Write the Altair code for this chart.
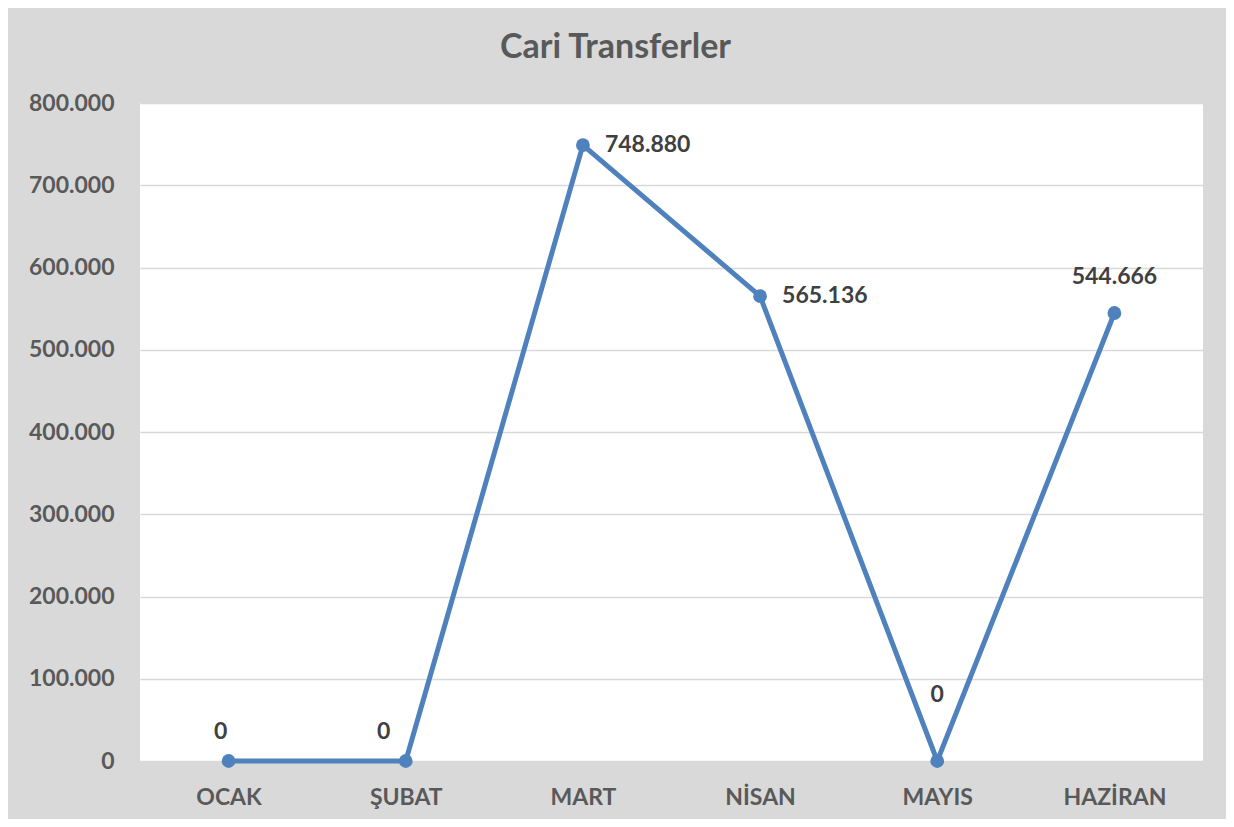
import altair as alt
import pandas as pd

months = ["OCAK", "ŞUBAT", "MART", "NİSAN", "MAYIS", "HAZİRAN"]
values = [0, 0, 748880, 565136, 0, 544666]

df = pd.DataFrame({"ay": months, "deger": values})

FONT = "Lato"
LINE = "#4f81bd"

base = alt.Chart(df).transform_calculate(
    lbl="replace(format(datum.deger, ','), ',', '.')"
)

x_enc = alt.X("ay:N", sort=months, title=None,
              scale=alt.Scale(paddingInner=0, paddingOuter=0.5),
              axis=alt.Axis(labelAngle=0, labelFont=FONT, labelFontSize=23,
                            labelFontWeight="bold", labelColor="#595959",
                            labelPadding=25, ticks=False, domain=False, grid=False))
y_enc = alt.Y("deger:Q", title=None,
              scale=alt.Scale(domain=[0, 800000], nice=False),
              axis=alt.Axis(values=list(range(0, 800001, 100000)),
                            labelExpr="replace(format(datum.value, ','), ',', '.')",
                            labelFont=FONT, labelFontSize=23, labelFontWeight="bold",
                            labelColor="#595959", labelPadding=26, ticks=False,
                            domain=False, grid=True, gridColor="#d9d9d9",
                            gridWidth=1.5))

line = base.mark_line(color=LINE, strokeWidth=5).encode(x=x_enc, y=y_enc)
pts = base.mark_point(color=LINE, filled=True, opacity=1, size=190).encode(
    x=alt.X("ay:N", sort=months), y="deger:Q")

def lbl_layer(names, **kw):
    return base.transform_filter(
        alt.FieldOneOfPredicate(field="ay", oneOf=names)
    ).mark_text(font=FONT, fontSize=23, fontWeight="bold", color="#404040",
                baseline="middle", **kw).encode(
        x=alt.X("ay:N", sort=months), y="deger:Q", text="lbl:N")

labels = [
    lbl_layer(["OCAK"], dx=-8, dy=-29),
    lbl_layer(["ŞUBAT"], dx=-22, dy=-29),
    lbl_layer(["MAYIS"], dx=0, dy=-66),
    lbl_layer(["MART", "NİSAN"], align="left", dx=22),
    lbl_layer(["HAZİRAN"], dy=-36),
]

chart = alt.layer(line, pts, *labels).properties(
    width=1063, height=658,
    background="#d9d9d9",
    padding={"left": 132, "top": 95, "right": 23, "bottom": 58},
    autosize=alt.AutoSizeParams(type="none"),
    title=alt.TitleParams("Cari Transferler", font=FONT, fontSize=34,
                          fontWeight="bold", color="#595959", anchor="middle",
                          dx=-56, offset=27),
).configure_view(fill="white", strokeWidth=0)

chart.save("out.html", embed_options={"renderer": "svg", "actions": False})
